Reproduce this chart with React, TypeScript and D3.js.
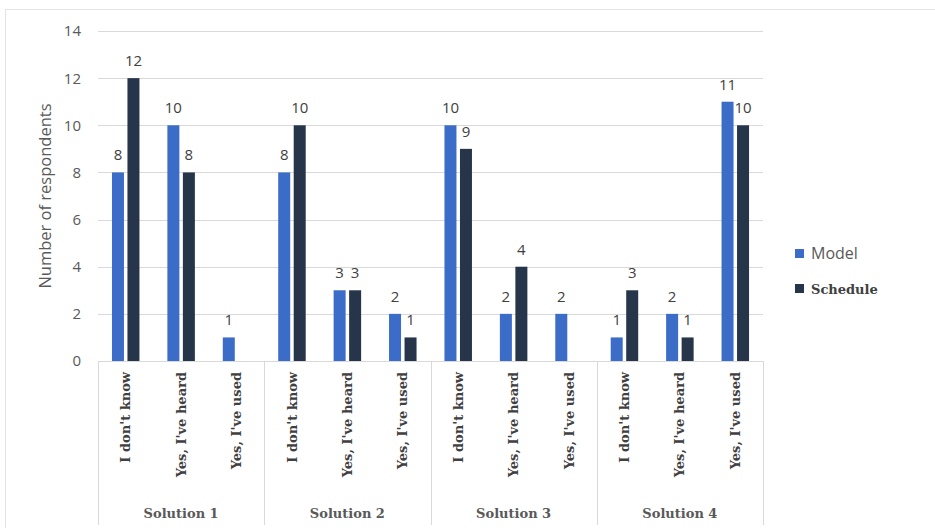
import React from "react";
import * as d3 from "d3";

const groups = ["Solution 1", "Solution 2", "Solution 3", "Solution 4"];
const answers = ["I don't know", "Yes, I've heard", "Yes, I've used"];
const modelValues: (number | null)[] = [8, 10, 1, 8, 3, 2, 10, 2, 2, 1, 2, 11];
const scheduleValues: (number | null)[] = [12, 8, null, 10, 3, 1, 9, 4, null, 3, 1, 10];
const yTicks = [0, 2, 4, 6, 8, 10, 12, 14];
const seriesNames = ["Model", "Schedule"];

const W = 935;
const H = 528;
const left = 98;
const right = 763;
const top = 31;
const bottom = 361;

const MODEL_COLOR = "#3b6cc8";
const SCHED_COLOR = "#263549";

export default function App() {
  const cats = groups.flatMap((g) => answers.map((a) => `${g}|${a}`));
  const x = d3.scaleBand<string>().domain(cats).range([left, right]).padding(0);
  const xg = d3.scaleBand<string>().domain(groups).range([left, right]).padding(0);
  const y = d3.scaleLinear().domain([0, 14]).range([bottom, top]);
  const bw = 12;
  const gap = 3.5;
  const sans = "'Open Sans', 'Noto Sans', sans-serif";
  const serif = "'DejaVu Serif', 'Liberation Serif', serif";

  const bars: JSX.Element[] = [];
  cats.forEach((c, i) => {
    const cx = (x(c) as number) + x.bandwidth() / 2;
    const series = [
      { v: modelValues[i], color: MODEL_COLOR, x0: cx - gap / 2 - bw },
      { v: scheduleValues[i], color: SCHED_COLOR, x0: cx + gap / 2 },
    ];
    series.forEach((s, j) => {
      if (s.v == null) return;
      bars.push(
        <rect key={`b${i}-${j}`} x={s.x0} y={y(s.v)} width={bw} height={bottom - y(s.v)} fill={s.color} />
      );
      bars.push(
        <text
          key={`l${i}-${j}`}
          x={s.x0 + bw / 2}
          y={y(s.v) - 12}
          textAnchor="middle"
          fontFamily={sans}
          fontSize={15}
          fill="#404040"
        >
          {s.v}
        </text>
      );
    });
  });

  return (
    <svg width={W} height={H} style={{ position: "absolute", left: 0, top: 0, background: "#fff" }}>
      <rect x={0} y={0} width={W} height={H} fill="#fff" />
      {/* outer frame */}
      <line x1={5.5} y1={9.5} x2={W} y2={9.5} stroke="#e3e3e3" strokeWidth={1} />
      <line x1={5.5} y1={9.5} x2={5.5} y2={H} stroke="#e3e3e3" strokeWidth={1} />
      {/* gridlines */}
      {yTicks.map((t) => (
        <g key={`g${t}`}>
          <line x1={left} x2={right} y1={Math.round(y(t)) + 0.5} y2={Math.round(y(t)) + 0.5} stroke="#d9d9d9" strokeWidth={1} />
          <text x={81} y={y(t)} dy="0.36em" textAnchor="end" fontFamily={sans} fontSize={15} fill="#595959">
            {t}
          </text>
        </g>
      ))}
      {/* axis title */}
      <text
        transform={`translate(45,${196}) rotate(-90)`}
        textAnchor="middle"
        dy="0.35em"
        fontFamily={sans}
        fontSize={16.5}
        fill="#595959"
      >
        Number of respondents
      </text>
      {bars}
      {/* group dividers */}
      {[...groups.map((g) => xg(g) as number), right].map((gx, i) => (
        <line key={`d${i}`} x1={Math.round(gx) + 0.5} x2={Math.round(gx) + 0.5} y1={bottom} y2={525} stroke="#d9d9d9" strokeWidth={1} />
      ))}
      {/* category labels */}
      {cats.map((c, i) => {
        const cx = (x(c) as number) + x.bandwidth() / 2;
        return (
          <text
            key={`c${i}`}
            transform={`translate(${cx},372) rotate(-90)`}
            textAnchor="end"
            dy="0.35em"
            fontFamily={serif}
            fontWeight="bold"
            fontSize={13}
            fill="#404040"
          >
            {answers[i % 3]}
          </text>
        );
      })}
      {groups.map((g) => (
        <text
          key={g}
          x={(xg(g) as number) + xg.bandwidth() / 2}
          y={513}
          dy="0.35em"
          textAnchor="middle"
          fontFamily={serif}
          fontWeight="bold"
          fontSize={13}
          fill="#595959"
        >
          {g}
        </text>
      ))}
      {/* legend */}
      <rect x={795} y={249} width={9} height={9} fill={MODEL_COLOR} />
      <text x={811} y={253} dy="0.35em" fontFamily={sans} fontSize={16} fill="#595959">
        {seriesNames[0]}
      </text>
      <rect x={795} y={284} width={9} height={9} fill={SCHED_COLOR} />
      <text x={811} y={289} dy="0.35em" fontFamily={serif} fontWeight="bold" fontSize={13} fill="#404040">
        {seriesNames[1]}
      </text>
    </svg>
  );
}
